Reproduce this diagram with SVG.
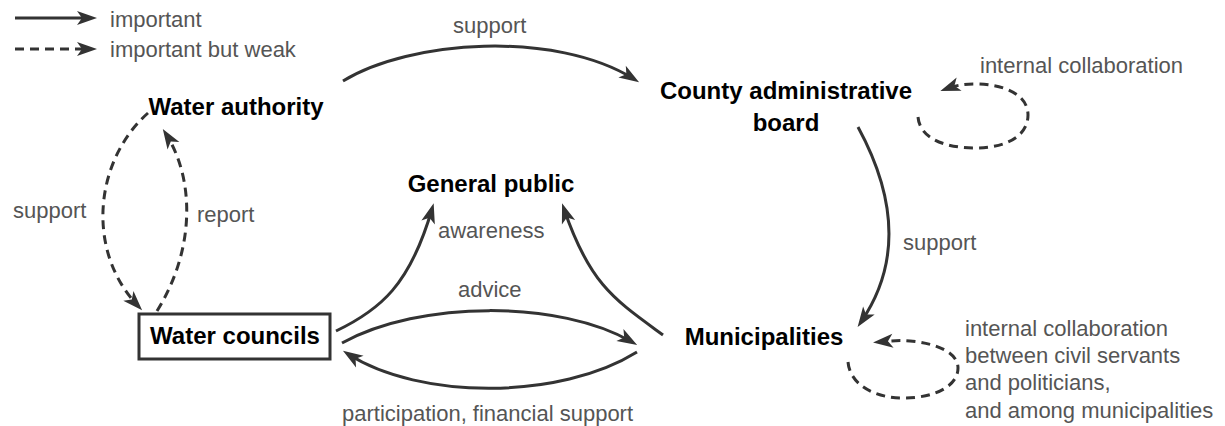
<svg xmlns="http://www.w3.org/2000/svg" width="1225" height="426" viewBox="0 0 1225 426">
<style>
.node{font-family:"Liberation Sans",Arial,sans-serif;font-size:24px;font-weight:bold;fill:#000;text-anchor:middle}
.lbl{font-family:"Liberation Sans",Arial,sans-serif;font-size:22px;fill:#555}
.c{fill:none;stroke:#333;stroke-width:3;marker-end:url(#ah)}
.d{stroke-dasharray:9 6}
</style>
<defs>
<marker id="ah" markerUnits="userSpaceOnUse" markerWidth="22" markerHeight="16" refX="14" refY="7" orient="auto" overflow="visible">
<path d="M0,0 L20,7 L0,14 L5,7 z" fill="#333" stroke="none"/>
</marker>
</defs>
<rect width="1225" height="426" fill="#fff"/>
<g id="legend">
<path class="c" d="M15,18 L91,18"/>
<text class="lbl" x="110" y="27">important</text>
<path class="c d" d="M15,49 L91,49"/>
<text class="lbl" x="110" y="57">important but weak</text>
</g>
<g id="water-authority"><text class="node" x="236" y="115">Water authority</text></g>
<g id="county-board"><text class="node" x="786" y="99">County administrative</text><text class="node" x="786" y="131">board</text></g>
<g id="general-public"><text class="node" x="491" y="192">General public</text></g>
<g id="water-councils"><rect x="139" y="314" width="191" height="45" fill="#fff" stroke="#333" stroke-width="3"/><text class="node" x="235" y="344">Water councils</text></g>
<g id="municipalities"><text class="node" x="764" y="345">Municipalities</text></g>
<g id="connectors">
<path class="c" d="M343,81 C410,40 555,30 634,79"/>
<text class="lbl" x="453" y="33">support</text>
<path class="c d" d="M918,117 C920,140 948,148 975,148 C1008,148 1028,135 1028,115 C1028,95 1005,84 975,84 C962,84 954,86 946,89"/>
<text class="lbl" x="980" y="73">internal collaboration</text>
<path class="c" d="M858,127 C895,195 902,262 861,322"/>
<text class="lbl" x="903" y="250">support</text>
<path class="c d" d="M848,362 C850,385 875,398 903,398 C935,398 958,386 958,368 C958,352 935,343 910,341 C900,340 890,341 879,342"/>
<text class="lbl" x="965" y="336">internal collaboration</text>
<text class="lbl" x="965" y="363">between civil servants</text>
<text class="lbl" x="965" y="390">and politicians,</text>
<text class="lbl" x="965" y="418">and among municipalities</text>
<path class="c d" d="M148,113 C95,160 85,250 138,306"/>
<text class="lbl" x="13" y="218">support</text>
<path class="c d" d="M157,311 C195,250 195,180 166,134"/>
<text class="lbl" x="197" y="222">report</text>
<path class="c" d="M336,331 C380,310 410,285 432,209"/>
<text class="lbl" x="438" y="238">awareness</text>
<path class="c" d="M663,335 C615,300 590,285 564,209"/>
<path class="c" d="M342,343 C420,300 560,300 632,342"/>
<text class="lbl" x="458" y="297">advice</text>
<path class="c" d="M637,352 C560,400 420,400 348,354"/>
<text class="lbl" x="342" y="421">participation, financial support</text>
</g>
</svg>
